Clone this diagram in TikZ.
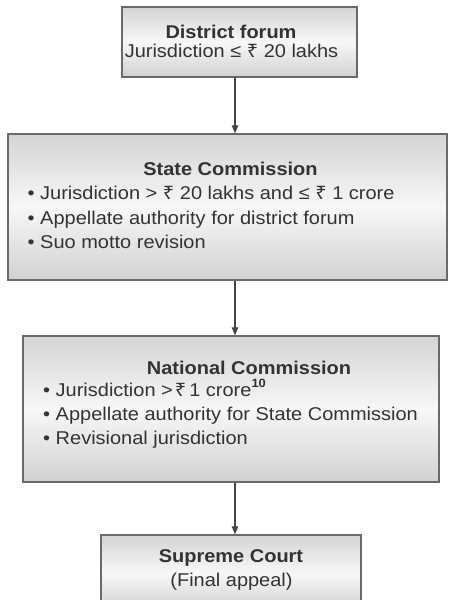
\documentclass[tikz,border=0pt]{standalone}
\usepackage{fontspec}
\setmainfont[FakeStretch=1.08]{Liberation Sans}
\newfontfamily\rs[FakeStretch=1.08]{Noto Sans}
\usetikzlibrary{arrows.meta}
\definecolor{txt}{HTML}{333333}
\definecolor{edge}{HTML}{6A6A6A}
\definecolor{arrc}{HTML}{444444}
\newcommand{\Rs}{{\rs ₹}}
\tikzset{
  box/.style={draw=edge, line width=1.3pt, rectangle, inner sep=0pt,
    top color=black!17, bottom color=black!18, middle color=white!97!black},
  ttl/.style={anchor=base, font=\fontsize{18.5}{20}\selectfont\bfseries, text=txt, inner sep=0pt},
  ln/.style={anchor=base, font=\fontsize{18.5}{20}\selectfont, text=txt, inner sep=0pt},
  bl/.style={anchor=base west, font=\fontsize{18.5}{20}\selectfont, text=txt, inner sep=0pt},
  arr/.style={draw=arrc, line width=1.2pt, -{Stealth[length=8pt,width=6.5pt,inset=0pt]}}
}
\begin{document}
\begin{tikzpicture}[x=1pt,y=-1pt]
\useasboundingbox (0,0) rectangle (448,600);
\node[box, minimum width=235pt, minimum height=70pt] (district) at (239.5,42) {};
\node[box, minimum width=439pt, minimum height=146pt] (state) at (227.5,207) {};
\node[box, minimum width=416pt, minimum height=146pt] (national) at (231,409) {};
\node[box, minimum width=260pt, minimum height=76pt] (supreme) at (231,573) {};
\coordinate (ax) at (235,0);
% district
\node[ttl] (dt) at (231,38.3) {District forum};
\node[ln] (dl) at (231.5,57) {Jurisdiction ≤ \Rs\ 20 lakhs};
% state
\node[ttl] (st) at (230.5,175) {State Commission};
\node[bl] (s1) at (27.5,199) {• Jurisdiction > \Rs\ 20 lakhs and ≤ \Rs\ 1 crore};
\node[bl] (s2) at (27.5,224) {• Appellate authority for district forum};
\node[bl] (s3) at (27.5,248) {• Suo motto revision};
% national
\node[ttl] (nt) at (249,374) {National Commission};
\node[bl] (n1) at (43,396) {• Jurisdiction >\hspace{2pt}\Rs\hspace{3pt}1 crore\raisebox{9pt}{\fontsize{12}{12}\selectfont\bfseries 10}};
\node[bl] (n2) at (43,420) {• Appellate authority for State Commission};
\node[bl] (n3) at (43,444) {• Revisional jurisdiction};
% supreme
\node[ttl] (pt) at (231,562.5) {Supreme Court};
\node[ln] (pl) at (231.5,586) {(Final appeal)};
% arrows
\draw[arr] (district.south -| ax) -- (state.north -| ax);
\draw[arr] (state.south -| ax) -- (national.north -| ax);
\draw[arr] (national.south -| ax) -- (supreme.north -| ax);
\end{tikzpicture}
\end{document}
